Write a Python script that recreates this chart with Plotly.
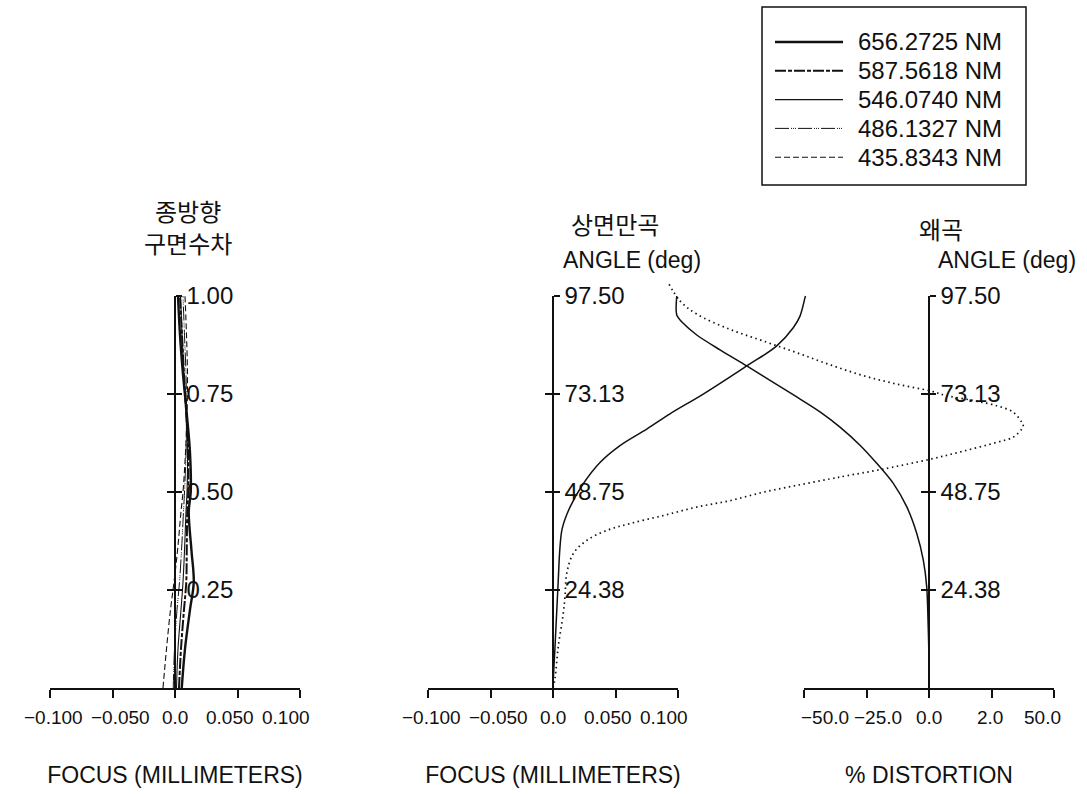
import plotly.graph_objects as go

W, H = 1087, 794

# ---------------- data ----------------
wavelengths = ["656.2725 NM", "587.5618 NM", "546.0740 NM", "486.1327 NM", "435.8343 NM"]

# longitudinal spherical aberration: relative pupil height vs focus shift (mm)
pupil = [0.0, 0.1, 0.2, 0.27, 0.35, 0.45, 0.5, 0.6, 0.7, 0.8, 0.9, 1.0]
lsa_656 = [0.0054, 0.0080, 0.0120, 0.0150, 0.0132, 0.0110, 0.0126, 0.0120, 0.0094, 0.0064, 0.0040, 0.0024]
lsa_587 = [0.0032, 0.0048, 0.0072, 0.0090, 0.0094, 0.0098, 0.0106, 0.0106, 0.0090, 0.0072, 0.0056, 0.0040]
lsa_546 = [0.0012, 0.0024, 0.0048, 0.0064, 0.0076, 0.0088, 0.0096, 0.0100, 0.0088, 0.0072, 0.0056, 0.0044]
lsa_486 = [-0.0014, -0.0004, 0.0016, 0.0036, 0.0052, 0.0068, 0.0076, 0.0088, 0.0092, 0.0088, 0.0076, 0.0064]
lsa_435 = [-0.0096, -0.0068, -0.0036, -0.0008, 0.0020, 0.0048, 0.0064, 0.0084, 0.0096, 0.0100, 0.0092, 0.0080]

# field curvature: field angle (deg) vs focus shift (mm)
fc_s_angle = [0.0, 2.0, 10.2, 26.8, 35.1, 39.7, 45.0, 50.8, 56.1, 60.3, 64.4, 68.2, 73.1, 80.1, 85.1, 89.6, 92.5, 97.1, 97.5]
fc_s_focus = [0.0, 0.0002, 0.0016, 0.0042, 0.0056, 0.0074, 0.0136, 0.0242, 0.0376, 0.0536, 0.0750, 0.0936,
              0.1202, 0.1550, 0.1790, 0.1922, 0.1976, 0.2016, 0.2020]

fc_t_angle = [0.0, 2.4, 10.3, 18.5, 22.7, 28.5, 33.4, 36.7, 39.2, 40.9, 42.9, 45.0, 46.6, 48.7, 50.4, 52.0,
              52.8, 54.3, 56.9, 58.9, 61.1, 62.4, 64.4, 65.2, 66.1, 68.6, 70.2, 71.5, 72.7, 73.9, 75.6,
              77.7, 80.4, 83.4, 86.3, 89.2, 93.0, 96.3, 100.8]
fc_t_focus = [0.0, 0.0016, 0.0042, 0.0082, 0.0096, 0.0110, 0.0162, 0.0270, 0.0430, 0.0616, 0.0882, 0.1150,
              0.1416, 0.1682, 0.1950, 0.2216, 0.2350, 0.2616, 0.3016, 0.3282, 0.3550, 0.3682, 0.3750,
              0.3762, 0.3750, 0.3682, 0.3550, 0.3362, 0.3150, 0.3016, 0.2750, 0.2482, 0.2216, 0.1950,
              0.1682, 0.1416, 0.1150, 0.1016, 0.0922]

# distortion: field angle (deg) vs distortion (%)
dist_angle = [0.0, 5.0, 10.0, 14.4, 25.2, 31.8, 38.5, 45.1, 50.9, 55.9, 60.4, 64.9, 68.7, 72.4, 76.5,
              80.1, 84.1, 87.8, 90.7, 92.8, 97.5]
dist_value = [0.0, 0.0, -0.1, -0.28, -0.92, -2.28, -4.92, -8.92, -14.28, -20.92, -27.6, -35.6, -43.6,
              -52.9, -63.6, -72.9, -83.6, -92.9, -98.3, -100.9, -100.9]

# tick labels
focus_ticks = [-0.100, -0.050, 0.0, 0.050, 0.100]
focus_ticktext = ["\u22120.100", "\u22120.050", "0.0", "0.050", "0.100"]
dist_ticks = [-50, -25, 0, 25, 50]
dist_ticktext = ["\u221250.0", "\u221225.0", "0.0", "2.0", "50.0"]
pupil_ticks = [0.25, 0.50, 0.75, 1.00]
angle_max = 97.50
angle_ticks = [24.38, 48.75, 73.13, 97.50]

# ---------------- styling ----------------
SANS = "Liberation Sans, Arial, Helvetica"
KR = "Noto Sans CJK KR, Noto Sans CJK SC, sans-serif"
INK = "#111111"

styles = [
    dict(width=2.4, dash="solid"),
    dict(width=2.0, dash="11px,2px,4px,2px"),
    dict(width=1.1, dash="solid"),
    dict(width=1.0, dash="14px,2px,1px,1px,1px,1px,1px,2px"),
    dict(width=1.1, dash="6px,3px"),
]
lsa_series = [lsa_656, lsa_587, lsa_546, lsa_486, lsa_435]

# horizontal nudge (px) of the bottom tick labels, pulling the outer ones inside the axis span
focus_label_shift = [3, 8, 0, -8, -14]
dist_label_shift = [21, 11, 0, -2, -12]


def px_x(p):
    return p / W


def px_y(p):
    return 1 - p / H


# plot frames in pixels
LEFT = (50, 300, 175)      # x0, x1, position of vertical axis
MID = (428, 678, 553)
RIGHT = (804, 1054, 929)
Y_TOP, Y_BOT = 296, 688
Y_EXT_TOP = 268            # taller hidden frame for curves running past the top tick
Y_TICKLABEL = 717

fig = go.Figure()

# longitudinal spherical aberration (thick line drawn last so it sits on top)
for name, vals, st in reversed(list(zip(wavelengths, lsa_series, styles))):
    fig.add_trace(go.Scatter(x=vals, y=pupil, mode="lines", name=name, showlegend=False,
                             line=dict(color=INK, width=st["width"], dash=st["dash"], shape="spline"),
                             xaxis="x", yaxis="y"))

# empty traces register the remaining axis frames so their lines and ticks are drawn
for xa, ya in [("x2", "y2"), ("x3", "y3"), ("x", "y6"), ("x2", "y7"), ("x3", "y8")]:
    fig.add_trace(go.Scatter(x=[], y=[], mode="lines", showlegend=False, hoverinfo="skip",
                             xaxis=xa, yaxis=ya))

# field curvature and distortion live on wide hidden axes sharing the visible scales
fig.add_trace(go.Scatter(x=fc_s_focus, y=fc_s_angle, mode="lines", showlegend=False,
                         line=dict(color=INK, width=1.5, shape="spline"), xaxis="x4", yaxis="y4"))
fig.add_trace(go.Scatter(x=fc_t_focus, y=fc_t_angle, mode="lines", showlegend=False,
                         line=dict(color=INK, width=1.7, dash="1.5px,3.5px", shape="spline"),
                         xaxis="x4", yaxis="y4"))
fig.add_trace(go.Scatter(x=dist_value, y=dist_angle, mode="lines", showlegend=False,
                         line=dict(color=INK, width=1.5, shape="spline", smoothing=0.8),
                         xaxis="x5", yaxis="y4"))

mm_per_px = 0.2 / (MID[1] - MID[0])
pct_per_px = 100.0 / (RIGHT[1] - RIGHT[0])
deg_per_px = angle_max / (Y_BOT - Y_TOP)

xcommon = dict(showgrid=False, zeroline=False, showline=True, linecolor=INK, linewidth=1.5,
               ticks="outside", ticklen=8, tickwidth=1.5, tickcolor=INK,
               automargin=False, showticklabels=False)
ycommon = dict(showgrid=False, zeroline=False, showline=True, linecolor=INK, linewidth=1.5,
               ticks="inside", ticklen=7, tickwidth=1.5, tickcolor=INK, side="right",
               anchor="free", automargin=False, tickfont=dict(family=SANS, size=24, color=INK),
               ticklabelstandoff=6)
ytick_over = dict(showgrid=False, zeroline=False, showline=False, ticks="outside", ticklen=6,
                  tickwidth=1.5, tickcolor=INK, side="right", anchor="free", automargin=False,
                  showticklabels=False)
ydom = [px_y(Y_BOT), px_y(Y_TOP)]
xtitle = dict(font=dict(family=SANS, size=23, color=INK), standoff=70)

fig.update_layout(
    width=W, height=H, margin=dict(l=0, r=0, t=0, b=0, autoexpand=False),
    paper_bgcolor="white", plot_bgcolor="rgba(0,0,0,0)", showlegend=False,
    xaxis=dict(domain=[px_x(LEFT[0]), px_x(LEFT[1])], range=[-0.1, 0.1], anchor="y",
               tickvals=focus_ticks, title=dict(text="FOCUS (MILLIMETERS)", **xtitle), **xcommon),
    yaxis=dict(domain=ydom, range=[0, 1], position=px_x(LEFT[2]),
               tickvals=pupil_ticks, ticktext=[f"{v:.2f}" for v in pupil_ticks], **ycommon),
    yaxis6=dict(domain=ydom, range=[0, 1], position=px_x(LEFT[2]), overlaying="y",
                tickvals=pupil_ticks, **ytick_over),
    xaxis2=dict(domain=[px_x(MID[0]), px_x(MID[1])], range=[-0.1, 0.1], anchor="y2",
                tickvals=focus_ticks, title=dict(text="FOCUS (MILLIMETERS)", **xtitle), **xcommon),
    yaxis2=dict(domain=ydom, range=[0, angle_max], position=px_x(MID[2]),
                tickvals=angle_ticks, ticktext=[f"{v:.2f}" for v in angle_ticks], **ycommon),
    yaxis7=dict(domain=ydom, range=[0, angle_max], position=px_x(MID[2]), overlaying="y2",
                tickvals=angle_ticks, **ytick_over),
    xaxis3=dict(domain=[px_x(RIGHT[0]), px_x(RIGHT[1])], range=[-50, 50], anchor="y3",
                tickvals=dist_ticks, title=dict(text="% DISTORTION", **xtitle), **xcommon),
    yaxis3=dict(domain=ydom, range=[0, angle_max], position=px_x(RIGHT[2]),
                tickvals=angle_ticks, ticktext=[f"{v:.2f}" for v in angle_ticks], **ycommon),
    yaxis8=dict(domain=ydom, range=[0, angle_max], position=px_x(RIGHT[2]), overlaying="y3",
                tickvals=angle_ticks, **ytick_over),
    # hidden wide frames so curves can run across neighbouring panels
    xaxis4=dict(domain=[px_x(MID[0]), 1], anchor="y4", visible=False, automargin=False,
                range=[-0.1, -0.1 + (W - MID[0]) * mm_per_px]),
    xaxis5=dict(domain=[px_x(MID[0]), 1], anchor="y4", visible=False, automargin=False,
                range=[-50 - (RIGHT[0] - MID[0]) * pct_per_px, 50 + (W - RIGHT[1]) * pct_per_px]),
    yaxis4=dict(domain=[px_y(Y_BOT), px_y(Y_EXT_TOP)], anchor="x4", visible=False, automargin=False,
                range=[0, (Y_BOT - Y_EXT_TOP) * deg_per_px]),
)

# bottom tick labels, placed on each axis scale
for xref, vals, texts, shifts in [("x", focus_ticks, focus_ticktext, focus_label_shift),
                                  ("x2", focus_ticks, focus_ticktext, focus_label_shift),
                                  ("x3", dist_ticks, dist_ticktext, dist_label_shift)]:
    for v, t, s in zip(vals, texts, shifts):
        fig.add_annotation(text=t, x=v, xref=xref, y=px_y(Y_TICKLABEL), yref="paper",
                           xshift=s, showarrow=False, xanchor="center", yanchor="middle",
                           font=dict(family=SANS, size=19, color=INK))

# panel headings
notes = [
    ("종방향", 188, 210, KR, 24),
    ("구면수차", 188, 243, KR, 24),
    ("상면만곡", 615, 223, KR, 24),
    ("ANGLE (deg)", 632, 260, SANS, 23),
    ("왜곡", 941, 228, KR, 24),
    ("ANGLE (deg)", 1007, 260, SANS, 23),
]
for text, x, y, fam, size in notes:
    fig.add_annotation(text=text, x=px_x(x), y=px_y(y), xref="paper", yref="paper",
                       showarrow=False, xanchor="center", yanchor="middle",
                       font=dict(family=fam, size=size, color=INK))

# legend box
fig.add_shape(type="rect", xref="paper", yref="paper", x0=px_x(762), x1=px_x(1026),
              y0=px_y(185), y1=px_y(7), line=dict(color=INK, width=1.5))
row0, row_gap = 42, 28.8
for i, (name, st) in enumerate(zip(wavelengths, styles)):
    yy = px_y(row0 + i * row_gap)
    fig.add_shape(type="line", xref="paper", yref="paper", x0=px_x(775), x1=px_x(843), y0=yy, y1=yy,
                  line=dict(color=INK, width=st["width"], dash=st["dash"]))
    fig.add_annotation(text=name, x=px_x(856), y=yy, xref="paper", yref="paper", showarrow=False,
                       xanchor="left", yanchor="middle", font=dict(family=SANS, size=24, color=INK))

fig.write_html("out.html")
